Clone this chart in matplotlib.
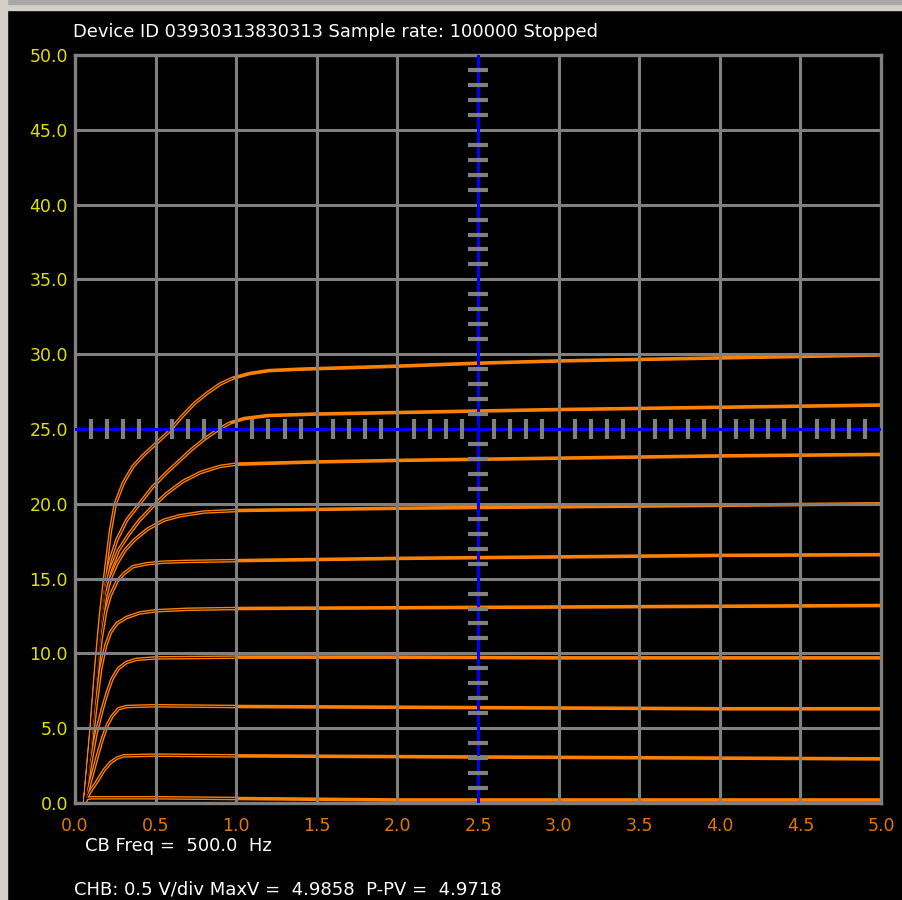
# Curve tracer screen: drain current sweeps with crosshair cursor

import numpy as np
import matplotlib.pyplot as plt
from matplotlib.patches import Rectangle

# sweep traces (x = volts, y = current)
c1_x = [0.06, 0.075, 0.10, 0.5, 1.0, 2.0, 3.0, 4.0, 5.0]
c1_y = [0.0, 0.3, 0.35, 0.35, 0.3, 0.2, 0.2, 0.2, 0.2]

c2_x = [0.06, 0.09, 0.14, 0.18, 0.22, 0.26, 0.30, 0.5, 1.0, 2.0, 3.0, 4.0, 5.0]
c2_y = [0.0, 0.7, 1.5, 2.2, 2.7, 3.0, 3.15, 3.2, 3.15, 3.1, 3.05, 3.0, 2.95]

c3_x = [0.06, 0.10, 0.14, 0.17, 0.20, 0.23, 0.27, 0.32, 0.5, 1.0, 2.0, 3.0, 4.0, 5.0]
c3_y = [0.0, 1.6, 3.2, 4.3, 5.2, 5.8, 6.3, 6.45, 6.5, 6.45, 6.4, 6.35, 6.3, 6.3]

c4_x = [0.06, 0.10, 0.13, 0.17, 0.20, 0.23, 0.27, 0.32, 0.38, 0.5, 1.0, 2.0, 3.0, 4.0, 5.0]
c4_y = [0.0, 2.8, 4.6, 6.3, 7.4, 8.3, 9.0, 9.4, 9.6, 9.7, 9.75, 9.75, 9.7, 9.7, 9.7]

c5_x = [0.06, 0.10, 0.13, 0.16, 0.19, 0.22, 0.26, 0.32, 0.40, 0.5, 0.7, 1.0, 2.0, 3.0, 4.0, 5.0]
c5_y = [0.0, 3.6, 6.5, 9.0, 10.5, 11.4, 12.0, 12.4, 12.7, 12.85, 12.95, 13.0, 13.05, 13.1, 13.15, 13.2]

c6_x = [0.06, 0.10, 0.13, 0.16, 0.19, 0.22, 0.26, 0.30, 0.36, 0.45, 0.55, 0.7, 1.0, 2.0, 3.0, 4.0, 5.0]
c6_y = [0.0, 4.2, 7.6, 10.8, 12.8, 13.9, 14.8, 15.3, 15.8, 16.0, 16.1, 16.15, 16.2, 16.35, 16.45, 16.55, 16.6]

c7_x = [0.06, 0.10, 0.13, 0.16, 0.19, 0.22, 0.26, 0.31, 0.37, 0.45, 0.55, 0.65, 0.8, 1.0,
        2.0, 3.0, 4.0, 5.0]
c7_y = [0.0, 4.5, 8.2, 11.5, 13.8, 15.0, 16.0, 16.9, 17.6, 18.3, 18.9, 19.2, 19.45, 19.55,
        19.7, 19.8, 19.9, 20.0]

c8_x = [0.06, 0.10, 0.13, 0.16, 0.19, 0.22, 0.27, 0.33, 0.40, 0.48, 0.57, 0.67, 0.78, 0.9,
        1.0, 1.5, 2.0, 3.0, 4.0, 5.0]
c8_y = [0.0, 4.7, 8.6, 12.0, 14.4, 15.6, 16.9, 17.9, 18.9, 19.8, 20.7, 21.5, 22.1, 22.5,
        22.65, 22.8, 22.9, 23.05, 23.2, 23.3]

c9_x = [0.06, 0.10, 0.13, 0.16, 0.19, 0.22, 0.26, 0.32, 0.40, 0.48, 0.56, 0.64, 0.72, 0.80,
        0.88, 0.96, 1.05, 1.2, 1.5, 2.0, 3.0, 4.0, 5.0]
c9_y = [0.0, 4.8, 8.9, 12.4, 14.9, 16.3, 17.6, 18.9, 20.0, 21.1, 22.0, 22.8, 23.6, 24.3,
        24.9, 25.4, 25.7, 25.9, 26.0, 26.1, 26.3, 26.45, 26.6]

c10_x = [0.06, 0.10, 0.13, 0.16, 0.19, 0.22, 0.25, 0.30, 0.36, 0.42, 0.50, 0.58, 0.66, 0.74,
         0.82, 0.90, 0.98, 1.08, 1.2, 1.4, 1.7, 2.0, 2.5, 3.0, 4.0, 5.0]
c10_y = [0.0, 5.0, 9.2, 12.8, 15.6, 18.2, 20.0, 21.4, 22.5, 23.2, 24.0, 24.8, 25.8, 26.7,
         27.4, 28.0, 28.4, 28.7, 28.9, 29.0, 29.1, 29.2, 29.4, 29.55, 29.75, 29.95]

curves = [(c1_x, c1_y), (c2_x, c2_y), (c3_x, c3_y), (c4_x, c4_y), (c5_x, c5_y),
          (c6_x, c6_y), (c7_x, c7_y), (c8_x, c8_y), (c9_x, c9_y), (c10_x, c10_y)]

x_ticks = [0.0, 0.5, 1.0, 1.5, 2.0, 2.5, 3.0, 3.5, 4.0, 4.5, 5.0]
y_ticks = [0, 5, 10, 15, 20, 25, 30, 35, 40, 45, 50]
cursor_x = 2.5
cursor_y = 25.0

header = "Device ID 03930313830313 Sample rate: 100000 Stopped"
freq_text = "CB Freq =  500.0  Hz"
chan_text = "CHB: 0.5 V/div MaxV =  4.9858  P-PV =  4.9718"

W, H = 902, 900
fig = plt.figure(figsize=(W / 100, H / 100), dpi=100, facecolor='black')
ax = fig.add_axes([75 / W, (H - 803) / H, 806 / W, 748 / H])
ax.set_facecolor('black')

# window frame edges
fig.add_artist(Rectangle((0, 1 - 10 / H), 1, 10 / H, transform=fig.transFigure,
                         color='#d4d0c8', zorder=0))
fig.add_artist(Rectangle((0, 1 - 4 / H), 1, 4 / H, transform=fig.transFigure,
                         color='#a8a8a8', zorder=0))
fig.add_artist(Rectangle((0, 0), 7 / W, 1, transform=fig.transFigure,
                         color='#d4d0c8', zorder=0))

orange = '#ff8000'
for cx, cy in curves:
    cx = np.array(cx)
    cy = np.array(cy)
    ax.plot(cx, cy, color=orange, lw=2.6, zorder=2, solid_capstyle='butt')
    # two sweeps overlap: thin dark gap in the rising part
    m = cx <= 1.0
    ax.plot(cx[m], cy[m], color='black', lw=0.6, zorder=2.05)

ax.set_xlim(0, 5)
ax.set_ylim(0, 50)
ax.set_xticks(x_ticks)
ax.set_yticks(y_ticks)
ax.set_xticklabels(['%.1f' % v for v in x_ticks])
ax.set_yticklabels(['%.1f' % v for v in y_ticks])
ax.set_axisbelow(False)
ax.grid(True, color='#808080', lw=2.2)
ax.tick_params(length=0)
ax.tick_params(axis='y', colors='#e0e000', labelsize=12.5, pad=5)
ax.tick_params(axis='x', colors='#e07800', labelsize=12.5, pad=10)
for s in ax.spines.values():
    s.set_color('#808080')
    s.set_linewidth(2.4)

# cursor crosshair with graduations
ax.axhline(cursor_y, color='#0000ff', lw=2.2, zorder=2.6)
ax.axvline(cursor_x, color='#0000ff', lw=2.2, zorder=2.6)
gx = np.arange(1, 50) / 10
gx = gx[np.arange(1, 50) % 5 != 0]
ax.plot(gx, np.full(len(gx), cursor_y), ls='none', marker='|', ms=14, mew=3,
        color='#808080', zorder=2.7)
gy = np.arange(1, 50).astype(float)
gy = gy[np.arange(1, 50) % 5 != 0]
ax.plot(np.full(len(gy), cursor_x), gy, ls='none', marker='_', ms=14, mew=3,
        color='#808080', zorder=2.7)

fig.text(73 / W, 1 - 32 / H, header, color='white', fontsize=12.9, va='center', ha='left')
fig.text(85 / W, 1 - 846 / H, freq_text, color='white', fontsize=13, va='center', ha='left')
fig.text(74 / W, 1 - 889 / H, chan_text, color='white', fontsize=13, va='center', ha='left')

fig.savefig('out.png', dpi=100, facecolor='black')
